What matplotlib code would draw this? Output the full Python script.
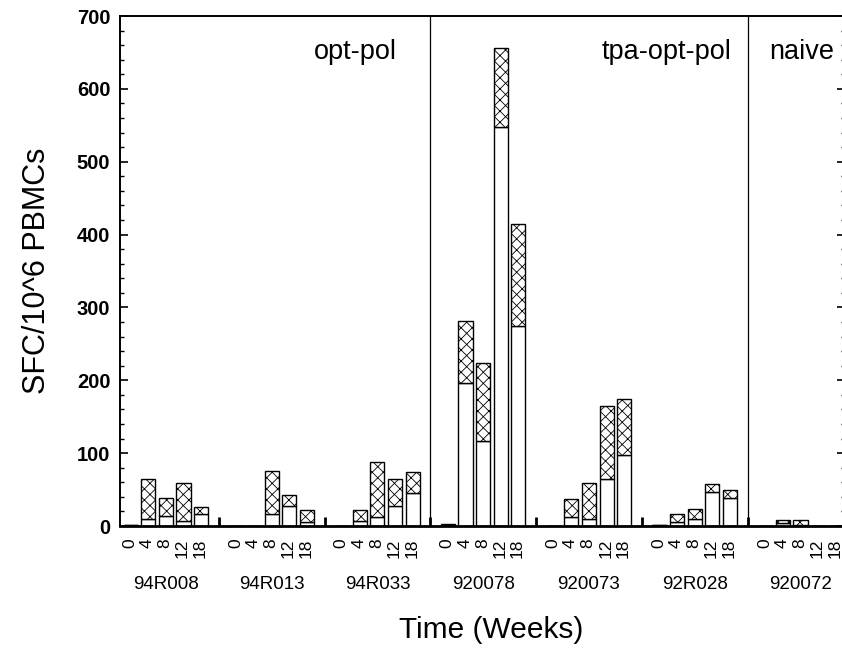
import numpy as np
import matplotlib.pyplot as plt
import matplotlib.transforms as mtransforms
from matplotlib.ticker import MultipleLocator

plt.rcParams['font.family'] = ['Liberation Sans', 'DejaVu Sans']
plt.rcParams['hatch.linewidth'] = 0.6

weeks = ['0', '4', '8', '12', '18']
subjects = ['94R008', '94R013', '94R033', '920078', '920073', '92R028', '920072']
groups = ['opt-pol', 'tpa-opt-pol', 'naive']

# lower (open) part of each bar
lower = [
    [1, 10, 14, 7, 17],
    [0, 0, 17, 27, 5],
    [0, 7, 13, 27, 45],
    [2, 196, 116, 548, 275],
    [0, 13, 10, 65, 98],
    [1, 5, 10, 46, 38],
    [0, 4, 1, 0, 0],
]
# total bar height (hatched part on top)
total = [
    [1, 65, 38, 59, 26],
    [0, 0, 75, 43, 22],
    [0, 22, 88, 65, 74],
    [3, 282, 224, 656, 414],
    [0, 37, 59, 165, 174],
    [1, 16, 23, 58, 49],
    [0, 8, 8, 0, 0],
]


def slot_positions():
    pos = []
    for g in range(len(subjects)):
        for k in range(len(weeks)):
            pos.append(g * 6 + k)
    return np.array(pos)


def main():
    fig = plt.figure(figsize=(8.42, 6.52), dpi=100)
    ax = fig.add_axes([120 / 842, 1 - 526 / 652, 724.6 / 842, 510 / 652])

    x = slot_positions()
    low = np.array(lower).ravel()
    top = np.array(total).ravel() - low

    ax.bar(x, low, width=0.8, color='white', edgecolor='black', linewidth=1.0)
    ax.bar(x, top, width=0.8, bottom=low, color='white', edgecolor='black',
           linewidth=1.0, hatch='xxx')

    # small separators between subjects, full lines between vaccine groups
    ax.vlines([5, 11, 17, 23, 29, 35], 0, 12, color='black', linewidth=2)
    ax.vlines([17, 35], 0, 700, color='black', linewidth=0.9)

    ax.set_xlim(-0.6, 40.5)
    ax.set_ylim(0, 700)

    ax.set_xticks(x - 0.05)
    ax.set_xticklabels(weeks * len(subjects), rotation=90, fontsize=12.5)
    ax.tick_params(axis='x', length=0, pad=9)

    ax.yaxis.set_major_locator(MultipleLocator(100))
    ax.yaxis.set_minor_locator(MultipleLocator(20))
    ax.tick_params(axis='y', which='both', direction='in', right=True)
    ax.tick_params(axis='y', which='major', length=6, width=1.2, labelsize=14.5, pad=7)
    ax.tick_params(axis='y', which='minor', length=3, width=1.0)
    for lab in ax.get_yticklabels():
        lab.set_fontweight('bold')

    ax.spines['bottom'].set_linewidth(2)
    ax.spines['left'].set_linewidth(1.4)
    ax.spines['top'].set_linewidth(1.4)
    ax.spines['right'].set_linewidth(1.4)

    trans = mtransforms.blended_transform_factory(ax.transData, ax.transAxes)
    for g, name in enumerate(subjects):
        ax.text(g * 6 + 2, -0.115, name, transform=trans, ha='center', va='center',
                fontsize=13.5)

    ax.text(15.1, 0.929, groups[0], transform=trans, ha='right', va='center', fontsize=19.5)
    ax.text(34.1, 0.929, groups[1], transform=trans, ha='right', va='center', fontsize=19.5)
    ax.text(36.2, 0.929, groups[2], transform=trans, ha='left', va='center', fontsize=19.5)

    fig.text(491 / 842, 1 - 630 / 652, 'Time (Weeks)', ha='center', va='center',
             fontsize=21.5)
    ax.set_ylabel('SFC/10^6 PBMCs', fontsize=22, labelpad=18)

    fig.savefig('out.png', dpi=100)


if __name__ == "__main__":
    main()
